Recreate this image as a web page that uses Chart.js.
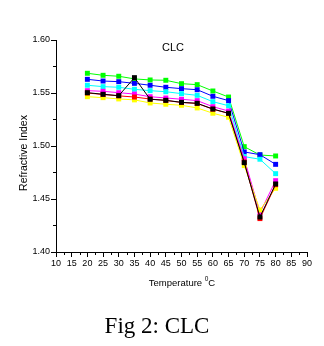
<!DOCTYPE html>
<html>
<head>
<meta charset="utf-8">
<script src="https://cdn.jsdelivr.net/npm/chart.js@4.4.0/dist/chart.umd.min.js"></script>
<style>
  html, body { margin: 0; padding: 0; background: #fff; }
  #wrap { position: relative; width: 324px; height: 346px; }
</style>
</head>
<body>
<div id="wrap"><canvas id="myChart" width="324" height="346"></canvas></div>
<script>
// temperatures (deg C)
const temps = [20, 25, 30, 35, 40, 45, 50, 55, 60, 65, 70, 75, 80];

// refractive index series
const blackVals   = [1.5503, 1.5488, 1.5475, 1.5645, 1.5441, 1.5431, 1.5412, 1.5403, 1.5349, 1.5309, 1.4843, 1.4330, 1.4642];
const redVals     = [1.5500, 1.5486, 1.5473, 1.5462, 1.5443, 1.5430, 1.5410, 1.5401, 1.5347, 1.5307, 1.4850, 1.4315, 1.4635];
const greenVals   = [1.5686, 1.5667, 1.5658, 1.5633, 1.5623, 1.5620, 1.5588, 1.5579, 1.5519, 1.5462, 1.4994, 1.4915, 1.4906];
const blueVals    = [1.5629, 1.5613, 1.5607, 1.5591, 1.5573, 1.5554, 1.5541, 1.5531, 1.5469, 1.5428, 1.4944, 1.4918, 1.4827];
const cyanVals    = [1.5573, 1.5560, 1.5554, 1.5535, 1.5522, 1.5512, 1.5494, 1.5478, 1.5418, 1.5380, 1.4900, 1.4875, 1.4739];
const magentaVals = [1.5522, 1.5516, 1.5503, 1.5490, 1.5465, 1.5453, 1.5441, 1.5428, 1.5371, 1.5330, 1.4880, 1.4370, 1.4673];
const yellowVals  = [1.5465, 1.5456, 1.5444, 1.5435, 1.5406, 1.5394, 1.5384, 1.5359, 1.5309, 1.5271, 1.4815, 1.4396, 1.4601];

const xTicks = [10, 15, 20, 25, 30, 35, 40, 45, 50, 55, 60, 65, 70, 75, 80, 85, 90];
const yTicks = [1.40, 1.45, 1.50, 1.55, 1.60];

const tickFont = { family: "'Liberation Sans Narrow', 'Liberation Sans', Arial", size: 9 };

function serie(vals, color) {
    return {
        data: temps.map((t, i) => ({ x: t, y: vals[i] })),
        borderColor: color,
        backgroundColor: color,
        borderWidth: 1,
        pointStyle: 'rect',
        pointRadius: 3.5,
        pointBorderWidth: 0,
        tension: 0
    };
}

// extra texts + minor ticks
const extras = {
    id: 'extras',
    afterDraw(chart) {
        const c = chart.ctx;
        const a = chart.chartArea;
        const xs = chart.scales.x, ys = chart.scales.y;
        c.save();
        c.strokeStyle = '#000';
        c.lineWidth = 1;
        // minor ticks
        for (let v = 12.5; v < 90; v += 5) {
            const px = Math.round(xs.getPixelForValue(v)) + 0.5;
            c.beginPath(); c.moveTo(px, a.bottom); c.lineTo(px, a.bottom + 3); c.stroke();
        }
        for (let v = 1.425; v < 1.6; v += 0.05) {
            const py = Math.round(ys.getPixelForValue(v)) + 0.5;
            c.beginPath(); c.moveTo(a.left, py); c.lineTo(a.left - 3, py); c.stroke();
        }
        c.fillStyle = '#000';
        // inner title
        c.font = "11px 'Liberation Sans', Arial";
        c.textAlign = 'center';
        c.textBaseline = 'middle';
        c.fillText('CLC', a.left + 117, a.top + 8);
        // y title
        c.save();
        c.translate(24, 153);
        c.rotate(-Math.PI / 2);
        c.font = "10.5px 'Liberation Sans', Arial";
        c.fillText('Refractive Index', 0, 0);
        c.restore();
        // x title with superscript
        c.font = "9.5px 'Liberation Sans', Arial";
        c.textAlign = 'left';
        c.textBaseline = 'alphabetic';
        const t1 = 'Temperature ';
        const w1 = c.measureText(t1).width;
        c.font = "6.5px 'Liberation Sans', Arial";
        const w2 = c.measureText('0').width;
        c.font = "9.5px 'Liberation Sans', Arial";
        const w3 = c.measureText('C').width;
        let x0 = 182 - (w1 + w2 + w3) / 2;
        c.fillText(t1, x0, 286);
        c.font = "6.5px 'Liberation Sans', Arial";
        c.fillText('0', x0 + w1, 281);
        c.font = "9.5px 'Liberation Sans', Arial";
        c.fillText('C', x0 + w1 + w2, 286);
        // caption
        c.font = "23px 'Liberation Serif', 'Times New Roman', serif";
        c.textAlign = 'center';
        c.fillText('Fig 2: CLC', 157, 333);
        c.restore();
    }
};

const ctx = document.getElementById('myChart').getContext('2d');
const myChart = new Chart(ctx, {
    type: 'line',
    data: {
        datasets: [
            serie(blackVals, '#000000'),
            serie(redVals, '#ff0000'),
            serie(yellowVals, '#ffff00'),
            serie(magentaVals, '#ff00ff'),
            serie(cyanVals, '#00ffff'),
            serie(blueVals, '#0000ff'),
            serie(greenVals, '#00ff00')
        ]
    },
    options: {
        responsive: false,
        animation: false,
        layout: { padding: { top: 40, right: 17, left: 0, bottom: 64 } },
        plugins: {
            legend: { display: false },
            tooltip: { enabled: false },
            title: { display: false }
        },
        scales: {
            x: {
                type: 'linear',
                min: 10,
                max: 90,
                afterFit: s => { s.height = 30; },
                afterBuildTicks: s => { s.ticks = xTicks.map(v => ({ value: v })); },
                ticks: { color: '#000', font: tickFont, padding: 1, maxRotation: 0, autoSkip: false },
                grid: { drawOnChartArea: false, drawTicks: true, tickLength: 5, tickColor: '#000' },
                border: { display: true, color: '#000', width: 1 }
            },
            y: {
                min: 1.40,
                max: 1.60,
                afterFit: s => { s.width = 56; },
                afterBuildTicks: s => { s.ticks = yTicks.map(v => ({ value: v })); },
                ticks: {
                    color: '#000', font: tickFont, padding: 1,
                    callback: v => v.toFixed(2)
                },
                grid: { drawOnChartArea: false, drawTicks: true, tickLength: 5, tickColor: '#000' },
                border: { display: true, color: '#000', width: 1 }
            }
        }
    },
    plugins: [extras]
});
</script>
</body>
</html>
